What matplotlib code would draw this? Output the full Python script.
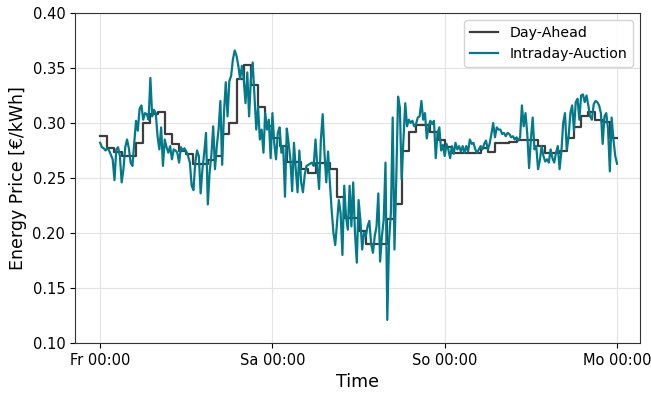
import numpy as np
import matplotlib
matplotlib.use("Agg")
import matplotlib.pyplot as plt

# Day-Ahead price, hourly (Fr 00:00 .. So 23:00), EUR/kWh
day_ahead = [
    0.288, 0.277, 0.274, 0.270, 0.270, 0.282, 0.300, 0.308, 0.310, 0.290, 0.281, 0.275,
    0.272, 0.263, 0.263, 0.266, 0.270, 0.290, 0.300, 0.340, 0.353, 0.335, 0.315, 0.297,
    0.286, 0.279, 0.265, 0.265, 0.258, 0.255, 0.264, 0.264, 0.258, 0.233, 0.214, 0.214,
    0.202, 0.190, 0.190, 0.190, 0.213, 0.226, 0.275, 0.292, 0.298, 0.298, 0.292, 0.285,
    0.278, 0.273, 0.273, 0.273, 0.273, 0.277, 0.274, 0.282, 0.282, 0.283, 0.285, 0.285,
    0.285, 0.279, 0.273, 0.273, 0.275, 0.286, 0.296, 0.306, 0.310, 0.303, 0.301, 0.286,
]

# Intraday-Auction price, quarter-hourly, EUR/kWh
intraday = [
    # Fr
    0.282, 0.278, 0.277, 0.275, 0.277, 0.275, 0.271, 0.267, 0.248, 0.276,
    0.278, 0.270, 0.246, 0.258, 0.278, 0.285, 0.277, 0.264, 0.261, 0.282,
    0.302, 0.293, 0.313, 0.316, 0.303, 0.309, 0.308, 0.303, 0.341, 0.306,
    0.312, 0.309, 0.288, 0.276, 0.296, 0.261, 0.285, 0.278, 0.273, 0.279,
    0.267, 0.276, 0.275, 0.273, 0.264, 0.278, 0.275, 0.277, 0.274, 0.270,
    0.264, 0.243, 0.239, 0.264, 0.275, 0.270, 0.236, 0.258, 0.273, 0.291,
    0.226, 0.255, 0.271, 0.297, 0.258, 0.279, 0.294, 0.320, 0.262, 0.309,
    0.337, 0.306, 0.338, 0.343, 0.358, 0.366, 0.361, 0.352, 0.340, 0.352,
    0.340, 0.318, 0.346, 0.306, 0.340, 0.355, 0.325, 0.294, 0.315, 0.285,
    0.294, 0.273, 0.309, 0.294, 0.303, 0.268,
    # Sa
    0.309, 0.282, 0.267, 0.291, 0.296, 0.273, 0.279, 0.233, 0.295, 0.282,
    0.267, 0.238, 0.282, 0.258, 0.237, 0.275, 0.246, 0.237, 0.253, 0.261,
    0.262, 0.263, 0.264, 0.261, 0.285, 0.261, 0.240, 0.285, 0.308, 0.273,
    0.246, 0.274, 0.246, 0.221, 0.200, 0.189, 0.209, 0.230, 0.218, 0.180,
    0.243, 0.215, 0.203, 0.243, 0.206, 0.246, 0.200, 0.173, 0.230, 0.212,
    0.185, 0.200, 0.197, 0.206, 0.211, 0.190, 0.182, 0.197, 0.206, 0.236,
    0.174, 0.197, 0.212, 0.264, 0.121, 0.194, 0.218, 0.305, 0.185, 0.249,
    0.324, 0.314, 0.249, 0.285, 0.318, 0.297, 0.303, 0.300, 0.302, 0.297,
    0.299, 0.305, 0.306, 0.320, 0.303, 0.309, 0.286, 0.297, 0.302, 0.299,
    0.302, 0.268, 0.291, 0.296, 0.275,
    # So
    0.280, 0.270, 0.281, 0.276, 0.268, 0.279, 0.272, 0.282, 0.276, 0.279,
    0.274, 0.279, 0.273, 0.279, 0.274, 0.285, 0.281, 0.282, 0.276, 0.273,
    0.276, 0.279, 0.276, 0.281, 0.284, 0.276, 0.281, 0.290, 0.300, 0.287,
    0.296, 0.294, 0.294, 0.290, 0.291, 0.288, 0.291, 0.290, 0.287, 0.288,
    0.285, 0.287, 0.284, 0.287, 0.316, 0.297, 0.309, 0.290, 0.259, 0.285,
    0.305, 0.276, 0.279, 0.258, 0.266, 0.279, 0.270, 0.265, 0.267, 0.264,
    0.276, 0.268, 0.264, 0.273, 0.279, 0.258, 0.274, 0.300, 0.309, 0.276,
    0.287, 0.309, 0.316, 0.293, 0.319, 0.322, 0.303, 0.325, 0.326, 0.319,
    0.325, 0.316, 0.306, 0.303, 0.317, 0.320, 0.319, 0.316, 0.309, 0.281,
    0.306, 0.309, 0.294, 0.256, 0.305, 0.285, 0.270, 0.263,
]

x_ticks = [0, 24, 48, 72]
x_tick_labels = ["Fr 00:00", "Sa 00:00", "So 00:00", "Mo 00:00"]
y_ticks = [0.10, 0.15, 0.20, 0.25, 0.30, 0.35, 0.40]

hours_da = np.arange(len(day_ahead) + 1)
da_vals = day_ahead + [day_ahead[-1]]
hours_id = np.arange(len(intraday)) * 0.25

fig, ax = plt.subplots(figsize=(6.51, 3.95), dpi=100)
fig.subplots_adjust(left=75 / 651, right=640 / 651, top=1 - 13 / 395, bottom=1 - 343 / 395)

ax.grid(True, color="#e3e3e3", linewidth=0.8, zorder=0)
ax.plot(hours_da, da_vals, drawstyle="steps-post", color="#3d3d3d",
        linewidth=1.6, label="Day-Ahead", zorder=3)
ax.plot(hours_id, intraday, color="#027a8a", linewidth=1.6,
        label="Intraday-Auction", zorder=4)

ax.set_xlim(-3.5, 75.2)
ax.set_ylim(0.10, 0.40)
ax.set_xticks(x_ticks)
ax.set_xticklabels(x_tick_labels, fontsize=10.5)
ax.set_yticks(y_ticks)
ax.set_yticklabels([f"{t:.2f}" for t in y_ticks], fontsize=10.5)
ax.set_xlabel("Time", fontsize=12.5, labelpad=4)
ax.set_ylabel("Energy Price [€/kWh]", fontsize=12.5)
for spine in ax.spines.values():
    spine.set_color("#333333")

ax.legend(loc="upper right", fontsize=10.2, framealpha=0.9, edgecolor="#d0d0d0")

fig.savefig("out.png", dpi=100)
